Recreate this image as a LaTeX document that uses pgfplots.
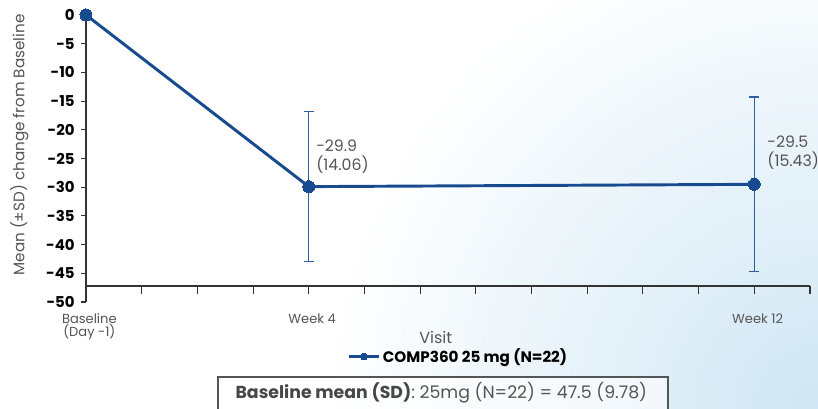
\documentclass[border=0pt]{standalone}
\usepackage{fontspec}
\setmainfont{Poppins}
\usepackage{pgfplots}
\pgfplotsset{compat=1.18}
\definecolor{mainblue}{HTML}{174A8E}
\definecolor{errblue}{HTML}{2D5EA6}
\definecolor{txtgray}{HTML}{555555}
\definecolor{glow}{HTML}{CFE6F4}
\begin{document}
\begin{tikzpicture}
\useasboundingbox (0,0) rectangle (613.5pt,306.75pt);
\clip (0,0) rectangle (613.5pt,306.75pt);
\fill[white] (0,0) rectangle (613.5pt,306.75pt);
\shade[inner color=glow, outer color=white] (613.5pt,0pt) circle (370pt);
% main axis (y axis + data)
\begin{axis}[
  at={(64.5pt,80.25pt)}, anchor=south west,
  scale only axis, width=543pt, height=215.25pt,
  xmin=0, xmax=13, ymin=-50, ymax=0,
  enlargelimits=false, clip=false,
  axis x line=none, axis y line*=left,
  ytick={-50,-45,...,0},
  yticklabels={-50,-45,-40,-35,-30,-25,-20,-15,-10,-5,0},
  tick align=outside, major tick length=4pt,
  y axis line style={line width=0.8pt, black!80},
  ytick style={line width=0.8pt, black!80},
  yticklabel style={font=\bfseries\fontsize{11.2}{13}\selectfont, black, xshift=-1pt},
  /pgf/number format/assume math mode=true,
  ylabel={Mean (±SD) change from Baseline},
  ylabel style={at={(axis description cs:-0.092,0.547)}, anchor=center, font=\fontsize{11.4}{13}\selectfont, color=txtgray},
  legend style={at={(axis description cs:0.515,-0.19)}, anchor=center, draw=none, fill=none,
    font=\bfseries\fontsize{11.4}{13}\selectfont, text=black, inner sep=0pt},
  legend image code/.code={\draw[#1, mark repeat=2, mark phase=2, mark size=2.6pt] plot coordinates {(0pt,0pt) (11pt,0pt) (22pt,0pt)};},
]
\addplot[color=mainblue, line width=2.2pt, mark=*, mark size=4.5pt,
  mark options={solid, fill=mainblue, draw=mainblue, line width=0pt},
  error bars/.cd, y dir=both, y explicit,
  error bar style={color=errblue, line width=0.9pt},
  error mark options={rotate=90, mark size=3.75pt, color=errblue, line width=0.9pt}]
  coordinates {(0,0) +- (0,0) (4,-29.9) +- (0,13.1) (12,-29.5) +- (0,15.2)};
\addlegendentry{COMP360 25 mg (N=22)}
\node[anchor=west, align=left, color=txtgray, font=\fontsize{11.8}{14.5}\selectfont, inner sep=0pt] at (axis cs:4.13,-24.7) {-29.9\\(14.06)};
\node[anchor=west, align=left, color=txtgray, font=\fontsize{11.8}{14.5}\selectfont, inner sep=0pt] at (axis cs:12.23,-23.95) {-29.5\\(15.43)};
\end{axis}
% x axis
\begin{axis}[
  at={(64.5pt,92.25pt)}, anchor=south west,
  scale only axis, width=543pt, height=30pt,
  xmin=0, xmax=13, ymin=0, ymax=1,
  enlargelimits=false,
  axis y line=none, axis x line*=bottom,
  xtick={0,...,13},
  xticklabels={{Baseline\\(Day -1)},,,,Week 4,,,,,,,,Week 12,},
  tick align=outside, major tick length=6pt,
  x axis line style={line width=0.8pt, black!80},
  xtick style={line width=0.8pt, black!80},
  xticklabel style={align=center, font=\fontsize{9.8}{9.8}\selectfont, color=txtgray, xshift=2.5pt, yshift=-11pt},
  xlabel={Visit},
  xlabel style={at={(axis description cs:0.483,0)}, anchor=center, yshift=-38.25pt, font=\fontsize{12}{14}\selectfont, color=txtgray},
]
\end{axis}
% baseline box
\draw[draw=txtgray, line width=1.4pt, fill=white, fill opacity=0.6, draw opacity=1] (163.5pt,-10pt) rectangle (501pt,24pt);
\node[font=\fontsize{13}{15}\selectfont, color=txtgray] at (331pt,12pt) {{\color{black!72}\bfseries Baseline mean (SD)}: 25mg (N=22) = 47.5 (9.78)};
\end{tikzpicture}
\end{document}
